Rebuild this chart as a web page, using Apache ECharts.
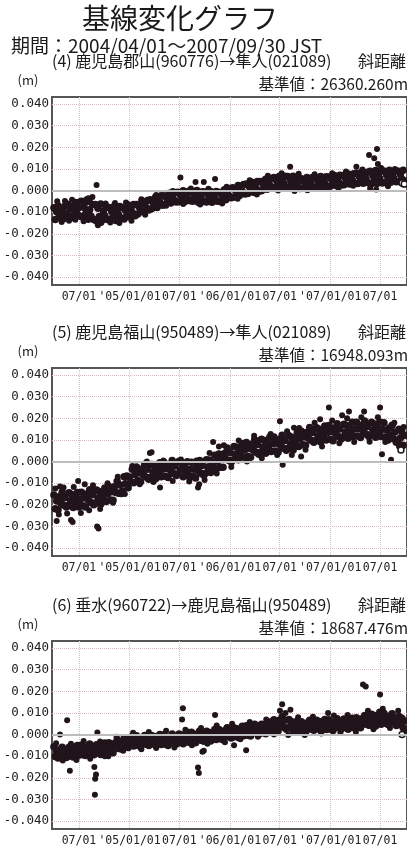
<!DOCTYPE html>
<html><head><meta charset="utf-8">
<script src="https://cdn.jsdelivr.net/npm/echarts@6/dist/echarts.min.js"></script>
<style>html,body{margin:0;padding:0;background:#fff}#c{width:407px;height:861px}</style>
</head><body><div id="c"></div>
<script>
// x values are days counted from the period start 2004/04/01
const startDate = '2004/04/01';
const sampleStepDays = 5;
const xTickDays = [91, 275, 456, 640, 821, 1005, 1186];
const xTickLabels = ["07/01", "'05/01/01", "07/01", "'06/01/01", "07/01", "'07/01/01", "07/01"];
const yTickValues = [-0.04, -0.03, -0.02, -0.01, 0, 0.01, 0.02, 0.03, 0.04];

const titles = ['(4) 鹿児島郡山(960776)→隼人(021089)', '(5) 鹿児島福山(950489)→隼人(021089)', '(6) 垂水(960722)→鹿児島福山(950489)'];
const baseValues = ['基準値：26360.260m', '基準値：16948.093m', '基準値：18687.476m'];

// (4) slope distance change (m), one value every 5 days
const dist4 = [
-0.0080,-0.0134,-0.0098,-0.0070,-0.0121,-0.0108,-0.0083,-0.0130,-0.0073,-0.0107,
-0.0063,-0.0118,-0.0084,-0.0126,-0.0072,-0.0096,-0.0055,-0.0110,-0.0079,-0.0119,
-0.0050,-0.0124,-0.0078,-0.0108,-0.0051,-0.0133,-0.0089,-0.0119,-0.0065,-0.0134,
-0.0065,-0.0141,-0.0082,-0.0120,-0.0062,-0.0137,-0.0095,-0.0116,-0.0075,-0.0134,
-0.0078,-0.0133,-0.0097,-0.0123,-0.0071,-0.0139,-0.0090,-0.0112,-0.0074,-0.0127,
-0.0080,-0.0131,-0.0091,-0.0116,-0.0067,-0.0121,-0.0083,-0.0101,-0.0064,-0.0117,
-0.0065,-0.0109,-0.0076,-0.0097,-0.0050,-0.0098,-0.0060,-0.0078,-0.0046,-0.0090,
-0.0042,-0.0084,-0.0054,-0.0072,-0.0030,-0.0078,-0.0040,-0.0054,-0.0024,-0.0068,
-0.0024,-0.0065,-0.0033,-0.0054,-0.0012,-0.0057,-0.0023,-0.0040,-0.0009,-0.0053,
-0.0008,-0.0052,-0.0021,-0.0043,-0.0001,-0.0052,-0.0014,-0.0035,-0.0003,-0.0047,
-0.0007,-0.0049,-0.0022,-0.0044,0.0000,-0.0054,-0.0017,-0.0033,-0.0005,-0.0051,
-0.0007,-0.0053,-0.0019,-0.0044,-0.0004,-0.0054,-0.0016,-0.0036,-0.0004,-0.0050,
-0.0008,-0.0050,-0.0018,-0.0038,0.0004,-0.0042,-0.0006,-0.0022,0.0010,-0.0033,
0.0013,-0.0030,0.0002,-0.0018,0.0024,-0.0023,0.0013,-0.0004,0.0028,-0.0016,
0.0030,-0.0013,0.0019,-0.0003,0.0039,-0.0008,0.0028,0.0011,0.0042,-0.0003,
0.0042,-0.0001,0.0031,0.0011,0.0052,0.0006,0.0041,0.0025,0.0056,0.0012,
0.0060,0.0015,0.0045,0.0022,0.0066,0.0015,0.0051,0.0034,0.0066,0.0017,
0.0065,0.0016,0.0048,0.0023,0.0066,0.0011,0.0049,0.0030,0.0061,0.0010,
0.0055,0.0012,0.0042,0.0020,0.0061,0.0013,0.0047,0.0030,0.0060,0.0014,
0.0059,0.0016,0.0046,0.0024,0.0065,0.0017,0.0052,0.0034,0.0064,0.0019,
0.0063,0.0020,0.0051,0.0029,0.0070,0.0023,0.0057,0.0040,0.0071,0.0026,
0.0070,0.0027,0.0058,0.0037,0.0077,0.0030,0.0065,0.0048,0.0078,0.0033,
0.0080,0.0033,0.0065,0.0041,0.0086,0.0034,0.0070,0.0053,0.0085,0.0035,
0.0089,0.0032,0.0068,0.0044,0.0093,0.0033,0.0076,0.0056,0.0090,0.0035,
0.0091,0.0037,0.0072,0.0050,0.0094,0.0038,0.0076,0.0058,0.0091,0.0041,
0.0091,0.0042,0.0074,0.0053,0.0094,0.0046
];
// (5)
const dist5 = [
-0.0155,-0.0218,-0.0182,-0.0223,-0.0163,-0.0192,-0.0142,-0.0201,-0.0166,-0.0210,
-0.0205,-0.0144,-0.0181,-0.0152,-0.0213,-0.0168,-0.0194,-0.0143,-0.0210,-0.0175,
-0.0142,-0.0205,-0.0168,-0.0210,-0.0150,-0.0179,-0.0130,-0.0189,-0.0154,-0.0200,
-0.0193,-0.0132,-0.0169,-0.0139,-0.0198,-0.0151,-0.0176,-0.0122,-0.0185,-0.0149,
-0.0115,-0.0178,-0.0140,-0.0179,-0.0117,-0.0143,-0.0091,-0.0147,-0.0108,-0.0148,
-0.0136,-0.0070,-0.0103,-0.0067,-0.0121,-0.0071,-0.0093,-0.0036,-0.0098,-0.0060,
-0.0025,-0.0088,-0.0052,-0.0093,-0.0034,-0.0062,-0.0012,-0.0071,-0.0036,-0.0082,
-0.0075,-0.0014,-0.0051,-0.0020,-0.0080,-0.0033,-0.0058,-0.0005,-0.0070,-0.0035,
-0.0003,-0.0068,-0.0032,-0.0074,-0.0015,-0.0044,0.0005,-0.0055,-0.0020,-0.0065,
-0.0058,0.0001,-0.0038,-0.0009,-0.0070,-0.0025,-0.0052,-0.0001,-0.0068,-0.0035,
-0.0003,-0.0069,-0.0035,-0.0076,-0.0017,-0.0045,0.0005,-0.0054,-0.0018,-0.0063,
-0.0055,0.0008,-0.0026,0.0007,-0.0051,-0.0003,-0.0026,0.0029,-0.0035,0.0002,
0.0035,-0.0026,0.0013,-0.0026,0.0037,0.0011,0.0063,0.0006,0.0042,-0.0002,
0.0007,0.0070,0.0034,0.0066,0.0008,0.0055,0.0031,0.0084,0.0020,0.0056,
0.0088,0.0025,0.0062,0.0020,0.0080,0.0052,0.0101,0.0043,0.0079,0.0034,
0.0042,0.0103,0.0066,0.0097,0.0038,0.0084,0.0059,0.0112,0.0047,0.0082,
0.0114,0.0049,0.0085,0.0043,0.0102,0.0073,0.0122,0.0062,0.0097,0.0052,
0.0059,0.0120,0.0083,0.0113,0.0054,0.0103,0.0079,0.0134,0.0070,0.0107,
0.0140,0.0078,0.0115,0.0075,0.0135,0.0108,0.0158,0.0099,0.0134,0.0089,
0.0096,0.0156,0.0119,0.0150,0.0091,0.0138,0.0113,0.0165,0.0100,0.0135,
0.0167,0.0103,0.0139,0.0096,0.0155,0.0126,0.0175,0.0116,0.0151,0.0105,
0.0112,0.0173,0.0136,0.0167,0.0108,0.0154,0.0129,0.0182,0.0116,0.0151,
0.0182,0.0118,0.0153,0.0111,0.0169,0.0139,0.0188,0.0128,0.0162,0.0116,
0.0122,0.0182,0.0144,0.0174,0.0113,0.0159,0.0132,0.0183,0.0116,0.0149,
0.0180,0.0113,0.0145,0.0100,0.0155,0.0123,0.0168,0.0106,0.0137,0.0089,
0.0092,0.0150,0.0109,0.0138,0.0076,0.0121
];
// (6)
const dist6 = [
-0.0056,-0.0101,-0.0078,-0.0109,-0.0070,-0.0090,-0.0059,-0.0100,-0.0075,-0.0106,
-0.0101,-0.0059,-0.0085,-0.0063,-0.0104,-0.0071,-0.0089,-0.0051,-0.0096,-0.0071,
-0.0050,-0.0093,-0.0068,-0.0097,-0.0056,-0.0076,-0.0044,-0.0086,-0.0061,-0.0093,
-0.0089,-0.0047,-0.0074,-0.0052,-0.0092,-0.0059,-0.0077,-0.0039,-0.0085,-0.0060,
-0.0038,-0.0081,-0.0056,-0.0084,-0.0041,-0.0059,-0.0024,-0.0064,-0.0036,-0.0067,
-0.0061,-0.0018,-0.0044,-0.0021,-0.0060,-0.0027,-0.0046,-0.0008,-0.0053,-0.0028,
-0.0006,-0.0050,-0.0026,-0.0056,-0.0016,-0.0036,-0.0004,-0.0045,-0.0019,-0.0051,
-0.0046,-0.0004,-0.0030,-0.0009,-0.0050,-0.0018,-0.0037,0.0000,-0.0046,-0.0022,
-0.0001,-0.0045,-0.0021,-0.0051,-0.0011,-0.0030,0.0003,-0.0039,-0.0013,-0.0044,
-0.0039,0.0003,-0.0024,-0.0002,-0.0042,-0.0009,-0.0027,0.0011,-0.0035,-0.0011,
0.0011,-0.0033,-0.0008,-0.0038,0.0003,-0.0017,0.0016,-0.0026,0.0000,-0.0031,
-0.0028,0.0015,-0.0012,0.0010,-0.0030,0.0003,-0.0016,0.0023,-0.0023,0.0002,
0.0024,-0.0019,0.0006,-0.0024,0.0018,-0.0002,0.0031,-0.0010,0.0016,-0.0016,
-0.0011,0.0031,0.0005,0.0027,-0.0014,0.0020,0.0002,0.0039,-0.0006,0.0019,
0.0041,-0.0003,0.0023,-0.0007,0.0034,0.0015,0.0048,0.0007,0.0033,0.0001,
0.0006,0.0048,0.0022,0.0044,0.0004,0.0036,0.0018,0.0058,0.0014,0.0041,
0.0069,0.0019,0.0050,0.0016,0.0066,0.0043,0.0083,0.0034,0.0066,0.0025,
0.0031,0.0070,0.0040,0.0059,0.0015,0.0046,0.0027,0.0063,0.0016,0.0039,
0.0059,0.0016,0.0041,0.0012,0.0053,0.0033,0.0066,0.0025,0.0051,0.0020,
0.0025,0.0066,0.0040,0.0061,0.0020,0.0052,0.0033,0.0070,0.0024,0.0048,
0.0069,0.0025,0.0049,0.0019,0.0059,0.0040,0.0073,0.0032,0.0058,0.0026,
0.0031,0.0072,0.0045,0.0066,0.0025,0.0057,0.0038,0.0076,0.0031,0.0056,
0.0078,0.0034,0.0059,0.0031,0.0073,0.0054,0.0088,0.0048,0.0074,0.0043,
0.0044,0.0094,0.0063,0.0088,0.0040,0.0080,0.0057,0.0103,0.0048,0.0078,
0.0099,0.0054,0.0078,0.0047,0.0086,0.0065,0.0096,0.0053,0.0076,0.0042,
0.0045,0.0084,0.0055,0.0075,0.0032,0.0063
];

// scattered points along the band edges [day, value]
const edge4 = [[12,-0.0050],[28,-0.0145],[40,-0.0048],[55,-0.0140],[66,-0.0042],[78,-0.0135],[95,-0.0050],[108,-0.0142],[118,-0.0040],[172,-0.0150],[188,-0.0060],[205,-0.0148],[222,-0.0058],[238,-0.0150],[262,-0.0055],[282,-0.0140],[318,-0.0040],[332,-0.0112],[372,-0.0020],[408,-0.0070],[432,-0.0002],[470,-0.0062],[498,0.0010],[532,-0.0065],[562,0.0008],[612,-0.0060],[628,0.0018],[668,-0.0038],[712,0.0048],[738,-0.0018],[778,0.0068],[815,0.0000],[828,0.0080],[875,-0.0002],[890,0.0078],[922,0.0002],[948,0.0075],[982,0.0008],[1012,0.0080],[1035,0.0012],[1062,0.0088],[1088,0.0022],[1122,0.0098],[1150,0.0010],[1190,0.0105],[1215,0.0020],[1240,0.0100],[1270,0.0028]];
const edge5 = [[5,-0.0125],[18,-0.0245],[35,-0.0120],[48,-0.0240],[72,-0.0118],[98,-0.0238],[112,-0.0105],[128,-0.0225],[142,-0.0110],[168,-0.0220],[195,-0.0100],[215,-0.0190],[232,-0.0070],[258,-0.0150],[285,-0.0020],[312,-0.0105],[338,0.0000],[362,-0.0095],[398,0.0005],[432,-0.0090],[462,0.0010],[492,-0.0092],[518,0.0005],[548,-0.0085],[566,0.0040],[592,-0.0055],[618,0.0075],[645,-0.0025],[672,0.0098],[702,0.0000],[728,0.0120],[756,0.0015],[788,0.0128],[812,0.0030],[848,0.0140],[865,0.0030],[892,0.0155],[915,0.0055],[948,0.0180],[975,0.0070],[1012,0.0190],[1038,0.0085],[1066,0.0200],[1092,0.0090],[1118,0.0205],[1148,0.0092],[1178,0.0205],[1205,0.0090],[1238,0.0180],[1255,0.0070],[1272,0.0160]];
const edge6 = [[8,-0.0040],[32,-0.0120],[62,-0.0042],[82,-0.0118],[108,-0.0030],[132,-0.0112],[168,-0.0032],[198,-0.0100],[228,-0.0010],[252,-0.0075],[288,0.0008],[318,-0.0068],[345,0.0012],[372,-0.0062],[408,0.0018],[438,-0.0060],[478,0.0022],[502,-0.0050],[535,0.0030],[558,-0.0042],[592,0.0042],[622,-0.0035],[648,0.0050],[678,-0.0022],[712,0.0058],[742,-0.0010],[772,0.0070],[800,0.0000],[842,0.0100],[852,-0.0002],[888,0.0080],[912,-0.0002],[942,0.0082],[972,0.0005],[1018,0.0088],[1042,0.0008],[1068,0.0090],[1098,0.0012],[1142,0.0110],[1162,0.0025],[1196,0.0120],[1222,0.0030],[1252,0.0110],[1276,0.0015]];

// isolated points [day, value]
const outliers4 = [[125,-0.0035],[130,-0.0045],[140,-0.0030],[155,0.0026],[160,-0.0160],[460,0.0060],[515,0.0040],[545,0.0040],[586,0.0054],[859,0.0110],[1100,0.0110],[1146,0.0165],[1165,0.0150],[1172,0.0005],[1175,0.0192],[1178,0.0123]];
const outliers5 = [[10,-0.0275],[22,-0.0115],[62,-0.0270],[68,-0.0280],[88,-0.0090],[157,-0.0300],[162,-0.0310],[349,0.0040],[355,0.0043],[386,-0.0120],[524,-0.0120],[528,-0.0105],[579,0.0090],[600,0.0070],[822,0.0187],[832,-0.0015],[873,0.0156],[899,0.0023],[968,0.0196],[1000,0.0250],[1048,0.0214],[1073,0.0232],[1128,0.0232],[1186,0.0250],[1193,0.0034],[1226,0.0008]];
const outliers6 = [[22,0.0000],[48,0.0066],[58,-0.0168],[147,-0.0150],[149,-0.0278],[150,-0.0205],[153,-0.0185],[158,0.0010],[185,-0.0100],[466,0.0070],[469,0.0122],[524,-0.0152],[527,-0.0178],[540,-0.0080],[545,-0.0075],[586,0.0090],[655,-0.0050],[699,-0.0072],[822,0.0110],[830,0.0140],[860,0.0115],[997,0.0100],[1124,0.0232],[1134,0.0222],[1186,0.0185]];
const latest4 = [[1266,0.0035],[1274,0.0030]];
const latest5 = [[1262,0.0054]];
const latest6 = [[1266,0.0000]];

const bands = [dist4, dist5, dist6];
const edges = [edge4, edge5, edge6];
const outs = [outliers4, outliers5, outliers6];
const lasts = [latest4, latest5, latest6];

const DOT = '#22141b';
const MONO = '"DejaVu Sans Mono", monospace';
const JP = '"Noto Sans CJK JP", sans-serif';
const frameTops = [97, 368, 641];
const plotH = 188;

const grid = [], xAxis = [], yAxis = [], series = [], graphic = [];
graphic.push({type:'text', x:180, y:18, style:{text:'基線変化グラフ', font:'28px ' + JP, fill:'#1a1a1a', align:'center', verticalAlign:'middle'}});
graphic.push({type:'text', x:11, y:46, style:{text:'期間：2004/04/01～2007/09/30 JST', font:'19px ' + JP, fill:'#1a1a1a', align:'left', verticalAlign:'middle'}});

frameTops.forEach((top, i) => {
  grid.push({left:52, top:top, width:355, height:plotH, show:true, borderColor:'#555', borderWidth:2, backgroundColor:'transparent'});
  xAxis.push({
    type:'value', gridIndex:i, min:-7, max:1284,
    axisLine:{show:false},
    axisTick:{show:false, customValues:xTickDays},
    axisLabel:{customValues:xTickDays, hideOverlap:false, margin:6, color:'#222', fontFamily:MONO, fontSize:11.5,
      formatter:(v)=>{const k = xTickDays.indexOf(Math.round(v)); return k >= 0 ? xTickLabels[k] : '';}},
    splitLine:{show:true, lineStyle:{color:'#c4c4c4', type:'dotted', width:1}}
  });
  yAxis.push({
    type:'value', gridIndex:i, min:-0.0437, max:0.0433,
    axisLine:{show:false},
    axisTick:{show:false, customValues:yTickValues},
    axisLabel:{customValues:yTickValues, margin:3, color:'#222', fontFamily:MONO, fontSize:12.5,
      formatter:(v)=>v.toFixed(3)},
    splitLine:{show:true, lineStyle:{color:'#d2bcbc', type:'dotted', width:1}}
  });
  series.push({
    type:'scatter', xAxisIndex:i, yAxisIndex:i, data:[], z:1, silent:true,
    markLine:{silent:true, symbol:['none','none'], label:{show:false}, animation:false,
      lineStyle:{color:'#bdbdbd', width:2, type:'solid'}, data:[{yAxis:0}]}
  });
  series.push({
    type:'scatter', xAxisIndex:i, yAxisIndex:i, z:3, symbolSize:7.5, silent:true,
    itemStyle:{color:DOT, opacity:1},
    data:bands[i].map((v, k) => [k * sampleStepDays, v])
  });
  series.push({
    type:'scatter', xAxisIndex:i, yAxisIndex:i, z:3, symbolSize:6, silent:true,
    itemStyle:{color:DOT, opacity:1}, data:edges[i]
  });
  series.push({
    type:'scatter', xAxisIndex:i, yAxisIndex:i, z:3, symbolSize:6, silent:true,
    itemStyle:{color:DOT, opacity:1}, data:outs[i]
  });
  series.push({
    type:'scatter', xAxisIndex:i, yAxisIndex:i, z:4, symbolSize:6, silent:true,
    itemStyle:{color:'#ffffff', borderColor:DOT, borderWidth:1.5, opacity:1}, data:lasts[i]
  });
  graphic.push({type:'text', x:52, y:top-36, style:{text:titles[i], font:'16px ' + JP, fill:'#1a1a1a', align:'left', verticalAlign:'middle'}});
  graphic.push({type:'text', x:406, y:top-36, style:{text:'斜距離', font:'16px ' + JP, fill:'#1a1a1a', align:'right', verticalAlign:'middle'}});
  graphic.push({type:'text', x:28, y:top-17, style:{text:'(m)', font:'13px ' + JP, fill:'#1a1a1a', align:'center', verticalAlign:'middle'}});
  graphic.push({type:'text', x:408, y:top-13, style:{text:baseValues[i], font:'15.5px ' + JP, fill:'#1a1a1a', align:'right', verticalAlign:'middle'}});
});

const chart = echarts.init(document.getElementById('c'), null, {renderer:'canvas'});
chart.setOption({animation:false, backgroundColor:'#fff', grid, xAxis, yAxis, series, graphic});
</script></body></html>
